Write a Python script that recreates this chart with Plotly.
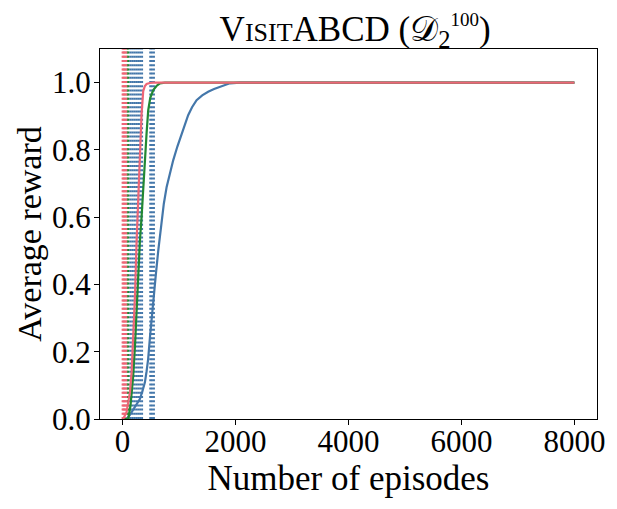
import plotly.graph_objects as go

# learning curves (episodes, average reward)
blue_x = [0, 70, 130, 188, 250, 306, 350, 395, 425, 453, 483, 513, 545, 589, 631, 690, 730, 779,
          836, 896, 970, 1044, 1100, 1161, 1230, 1310, 1410, 1515, 1620, 1722, 1810, 1899, 2080,
          3000, 4000, 5000, 6000, 7000, 8000]
blue_y = [0.0, 0.0, 0.012, 0.029, 0.044, 0.059, 0.082, 0.109, 0.142, 0.179, 0.24, 0.30, 0.36, 0.43,
          0.50, 0.585, 0.64, 0.689, 0.73, 0.769, 0.81, 0.848, 0.877, 0.903, 0.927, 0.948, 0.962, 0.973,
          0.981, 0.988, 0.994, 0.998, 1.0, 1.0, 1.0, 1.0, 1.0, 1.0, 1.0]

green_x = [0, 100, 140, 188, 220, 248, 280, 306, 336, 365, 395, 425, 454, 490, 543, 600, 660, 750,
           1000, 2000, 3000, 4000, 5000, 6000, 7000, 8000]
green_y = [0.0, 0.0, 0.04, 0.129, 0.22, 0.328, 0.43, 0.528, 0.6, 0.69, 0.769, 0.85, 0.918, 0.955, 0.978,
           0.99, 0.998, 1.0, 1.0, 1.0, 1.0, 1.0, 1.0, 1.0, 1.0, 1.0]

red_x = [0, 10, 70, 130, 160, 188, 220, 248, 270, 294, 315, 336, 365, 395, 425, 483, 550,
         1000, 2000, 3000, 4000, 5000, 6000, 7000, 8000]
red_y = [0.0, 0.0, 0.02, 0.079, 0.14, 0.228, 0.37, 0.528, 0.63, 0.727, 0.83, 0.907, 0.975, 0.99, 0.996,
         0.999, 1.0, 1.0, 1.0, 1.0, 1.0, 1.0, 1.0, 1.0, 1.0]

# episodes marked with dotted vertical lines
blue_vlines = [135, 170, 205, 240, 275, 310, 345, 490, 520, 555]
green_vlines = [85, 100]
red_vlines = [0, 15, 30, 45, 65]

x_ticks = [0, 2000, 4000, 6000, 8000]
y_ticks = [0.0, 0.2, 0.4, 0.6, 0.8, 1.0]

BLUE = "#4477AA"
GREEN = "#228833"
RED = "#EE6677"
FONT = "Liberation Serif"

fig = go.Figure()

# dotted markers first, curves on top
for vlines, color in [(blue_vlines, BLUE), (green_vlines, GREEN), (red_vlines, RED)]:
    for v in vlines:
        fig.add_trace(go.Scatter(
            x=[v, v], y=[0, 1.1], mode="lines",
            line=dict(color=color, width=2, dash="2px,2.2px"),
            hoverinfo="skip", showlegend=False,
        ))

for xs, ys, color in [(blue_x, blue_y, BLUE), (green_x, green_y, GREEN), (red_x, red_y, RED)]:
    fig.add_trace(go.Scatter(
        x=xs, y=ys, mode="lines",
        line=dict(color=color, width=2.2),
        showlegend=False,
    ))

axis_style = dict(
    showline=True, mirror=True, linecolor="black", linewidth=1,
    ticks="outside", ticklen=5, tickcolor="black",
    showgrid=False, zeroline=False, automargin=False,
    tickfont=dict(family=FONT, size=31, color="black"),
)

title_text = (
    "V<span style='font-size:26px'>ISIT</span>ABCD "
    "(𝒟<sub>2</sub><sup><span style='font-size:19px'>100</span></sup>)"
)

# the page body adds an 8px margin, so the figure is 8px smaller on each side
fig.update_layout(
    width=609, height=501,
    margin=dict(l=92, r=20, t=41, b=90),
    paper_bgcolor="white", plot_bgcolor="white",
    title=dict(
        text=title_text,
        x=0.57, xanchor="center", y=0.984, yanchor="top",
        font=dict(family=FONT, size=35, color="black"),
    ),
    xaxis=dict(
        range=[-400, 8400], tickvals=x_ticks, ticklabelstandoff=-10,
        title=dict(text="Number of episodes", font=dict(family=FONT, size=35, color="black"), standoff=0),
        **axis_style,
    ),
    yaxis=dict(
        range=[0, 1.1], tickvals=y_ticks, tickformat=".1f", ticklabelstandoff=-3,
        title=dict(text="Average reward", font=dict(family=FONT, size=34, color="black"), standoff=0),
        **axis_style,
    ),
)

fig.write_html("out.html")
